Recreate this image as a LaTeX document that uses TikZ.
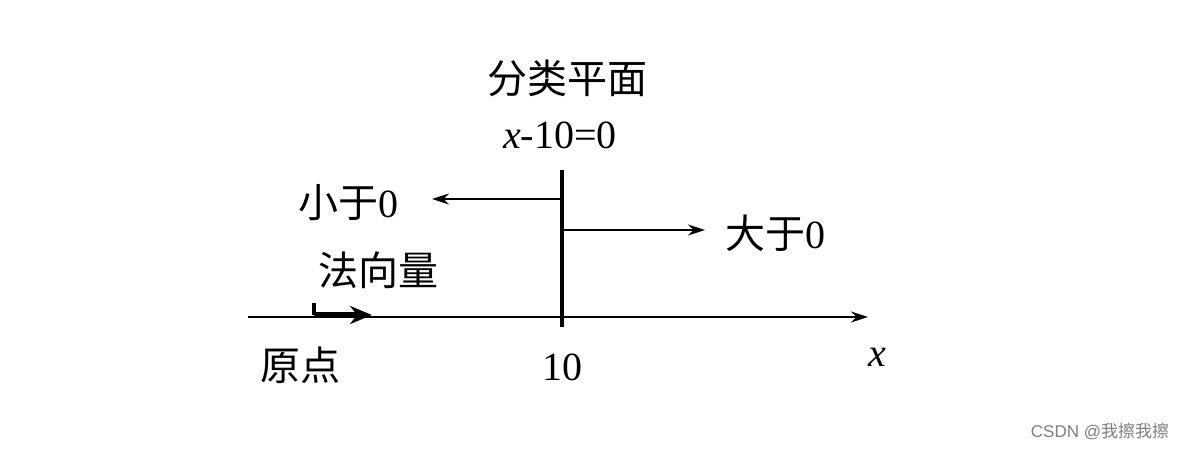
\documentclass[tikz,border=0pt]{standalone}
\usepackage{fontspec}
\setmainfont{Liberation Serif}
\setsansfont{Liberation Sans}
\newfontfamily\cjk{Noto Sans CJK SC}
\usetikzlibrary{arrows.meta}
\begin{document}
\begin{tikzpicture}[x=1pt,y=-1pt,
  lbl/.style={font=\fontsize{40}{44}\selectfont, inner sep=0pt},
  arr/.style={line width=1.8pt,-{Stealth[length=17pt,width=11pt]}}]
\useasboundingbox[fill=white] (0,0) rectangle (1183,449);
\coordinate (a0) at (248,317); \coordinate (a1) at (868,317);
\draw[arr] (a0) -- (a1);
\coordinate (p0) at (562,170); \coordinate (p1) at (562,327);
\draw[line width=4pt] (p0) -- (p1);
\coordinate (l0) at (562,199); \coordinate (l1) at (432,199);
\draw[arr] (l0) -- (l1);
\coordinate (r0) at (562,230); \coordinate (r1) at (705,230);
\draw[arr] (r0) -- (r1);
\coordinate (n0) at (314,303); \coordinate (n1) at (314,315); \coordinate (n2) at (372,315);
\draw[line width=3.5pt] (n0) -- (n1);
\draw[line width=5.5pt,-{Stealth[length=22pt,width=18pt]}] (n1) -- (n2);
\node[lbl] (t1) at (567,78) {\cjk 分类平面};
\node[lbl] (t2) at (560,135) {\textit{x}-10=0};
\node[lbl] (t3) at (348,203) {\cjk 小于\rmfamily 0};
\node[lbl] (t4) at (775,233) {\cjk 大于\rmfamily 0};
\node[lbl] (t5) at (378,270) {\cjk 法向量};
\node[lbl] (t6) at (300,365) {\cjk 原点};
\node[lbl] (t7) at (562,367) {10};
\node[lbl] (t8) at (877,357) {\textit{x}};
\node[font=\sffamily\fontsize{17}{19}\selectfont, text=gray, inner sep=0pt] (w) at (1100,432) {CSDN @{\cjk 我擦我擦}};
\end{tikzpicture}
\end{document}
